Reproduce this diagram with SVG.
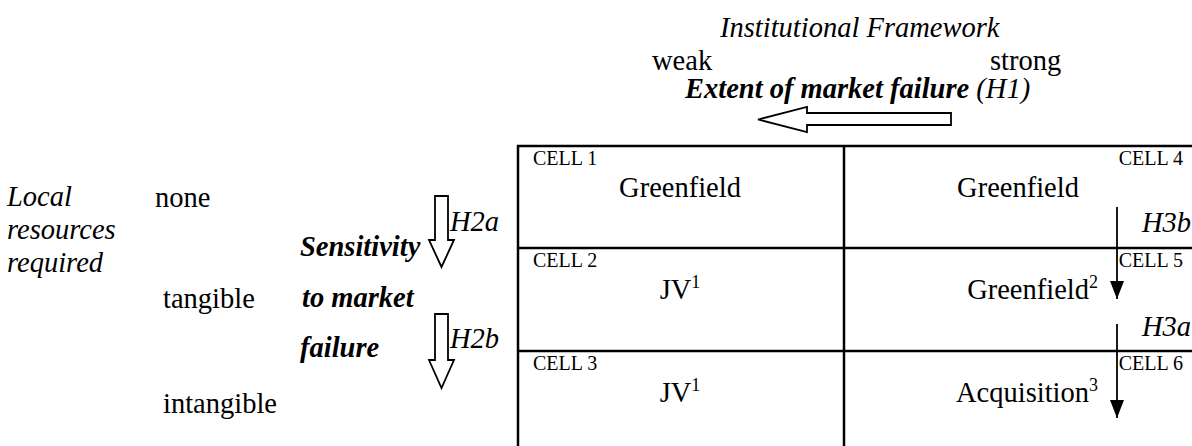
<svg xmlns="http://www.w3.org/2000/svg" width="1192" height="446" viewBox="0 0 1192 446">
<style>
text{font-family:"Liberation Serif","Times New Roman",serif;fill:#000}
.m{font-size:28.5px}
.i{font-style:italic}
.b{font-weight:bold}
.c{font-size:20px}
.mid{text-anchor:middle}
.end{text-anchor:end}
.grid{stroke:#000;stroke-width:2.5;fill:none}
.hollow{fill:#fff;stroke:#000;stroke-width:1.8;stroke-linejoin:miter}
.thin{stroke:#000;stroke-width:1.8;fill:none}
</style>
<defs>
<marker id="tri" markerWidth="18" markerHeight="14" refX="18" refY="7" orient="auto" markerUnits="userSpaceOnUse" viewBox="0 0 18 14">
<path d="M0,0 L18,7 L0,14 Z" fill="#000"/>
</marker>
</defs>
<rect width="1192" height="446" fill="#fff"/>

<g id="header">
<text class="m i" x="720" y="37">Institutional Framework</text>
<text class="m" x="652" y="70">weak</text>
<text class="m" x="990" y="70">strong</text>
<text class="m i" x="685" y="98"><tspan class="b">Extent of market failure</tspan> (H1)</text>
</g>

<g id="rows-labels">
<text class="m i" x="7" y="206">Local</text>
<text class="m i" x="7" y="239">resources</text>
<text class="m i" x="7" y="272">required</text>
<text class="m" x="155" y="207">none</text>
<text class="m" x="163" y="308">tangible</text>
<text class="m" x="163" y="413">intangible</text>
<text class="m b i" x="300" y="256">Sensitivity</text>
<text class="m b i" x="302" y="307">to market</text>
<text class="m b i" x="300" y="357">failure</text>
<text class="m i" x="450" y="231">H2a</text>
<text class="m i" x="450" y="348">H2b</text>
</g>

<g id="table">
<path class="grid" d="M518,454 V146 H1195 M844,146 V454 M518,248 H1195 M518,351 H1195"/>
</g>

<g id="cell1">
<text class="c" x="533" y="165">CELL 1</text>
<text class="m mid" x="680" y="197">Greenfield</text>
</g>
<g id="cell2">
<text class="c" x="533" y="267">CELL 2</text>
<text class="m mid" x="680" y="299">JV<tspan font-size="18" dy="-11">1</tspan></text>
</g>
<g id="cell3">
<text class="c" x="533" y="370">CELL 3</text>
<text class="m mid" x="680" y="402">JV<tspan font-size="18" dy="-11">1</tspan></text>
</g>
<g id="cell4">
<text class="c end" x="1183" y="165">CELL 4</text>
<text class="m mid" x="1018" y="197">Greenfield</text>
</g>
<g id="cell5">
<text class="c end" x="1183" y="267">CELL 5</text>
<text class="m end" x="1098" y="299">Greenfield<tspan font-size="18" dy="-11">2</tspan></text>
</g>
<g id="cell6">
<text class="c end" x="1183" y="370">CELL 6</text>
<text class="m end" x="1098" y="402">Acquisition<tspan font-size="18" dy="-11">3</tspan></text>
</g>

<g id="connectors">
<path id="h1" class="hollow" d="M758,119.5 L807,107 L807,113 L951,113 L951,125 L807,125 L807,132 Z"/>
<path id="h2a" class="hollow" d="M435,196 L448,196 L448,240 L454,240 L441.5,267 L429,240 L435,240 Z"/>
<path id="h2b" class="hollow" d="M435,314 L448,314 L448,360 L454,360 L441.5,388 L429,360 L435,360 Z"/>
<line id="h3b" class="thin" x1="1117" y1="207" x2="1117" y2="299" marker-end="url(#tri)"/>
<line id="h3a" class="thin" x1="1117" y1="324" x2="1117" y2="418" marker-end="url(#tri)"/>
<text class="m i end" x="1191" y="232">H3b</text>
<text class="m i end" x="1191" y="336">H3a</text>
</g>
</svg>
